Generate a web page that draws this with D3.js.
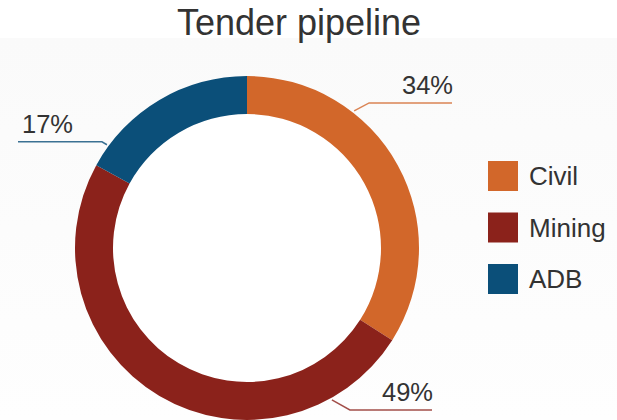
<!DOCTYPE html>
<html>
<head>
<meta charset="utf-8">
<script src="https://cdn.jsdelivr.net/npm/d3@7/dist/d3.min.js"></script>
<style>
  html, body { margin: 0; padding: 0; background: #fff; }
  svg { display: block; font-family: "Liberation Sans", Arial, sans-serif; }
</style>
</head>
<body>
<svg id="chart" width="617" height="420"></svg>
<script>
// Pipeline share by tender type
const categories = ["Civil", "Mining", "ADB"];
const shares = [34, 49, 17];
const colors = ["#D2672A", "#8B221B", "#0B4F79"];
const titleText = "Tender pipeline";

// Leader-line layout for each slice label (angle on the ring, elbow offset, end x, side)
const labelLayout = [
  { deg: 38,    elbow: [15, -8],  endX: 452, side: "right", dy: -9 },
  { deg: 150.8, elbow: [18, 10],  endX: 432, side: "right", dy: -9 },
  { deg: 306.4, elbow: [-5, -3],  endX: 18,  side: "left",  dy: -9 }
];

const W = 617, H = 420;
const cx = 247, cy = 248, outerR = 172, innerR = 134;

const svg = d3.select("#chart");

// very faint background wash below the title
const defs = svg.append("defs");
const grad = defs.append("linearGradient").attr("id", "bg").attr("x1", 0).attr("x2", 0).attr("y1", 0).attr("y2", 1);
grad.append("stop").attr("offset", "0%").attr("stop-color", "#fafafa");
grad.append("stop").attr("offset", "100%").attr("stop-color", "#fefefe");
svg.append("rect").attr("x", 0).attr("y", 38).attr("width", W).attr("height", H - 38).attr("fill", "url(#bg)");

svg.append("text")
  .attr("x", 299).attr("y", 35)
  .attr("text-anchor", "middle")
  .attr("font-size", 36)
  .attr("fill", "#333")
  .text(titleText);

const data = categories.map((c, i) => ({ name: c, value: shares[i], color: colors[i] }));

const pie = d3.pie().value(d => d.value).sort(null);
const arc = d3.arc().innerRadius(innerR).outerRadius(outerR);
const arcs = pie(data);

const g = svg.append("g").attr("transform", `translate(${cx},${cy})`);
// white hole
g.append("circle").attr("r", innerR).attr("fill", "#fff");
g.selectAll("path.slice")
  .data(arcs)
  .join("path")
  .attr("class", "slice")
  .attr("d", arc)
  .attr("fill", d => d.data.color);

// slice labels with leader lines
const total = d3.sum(shares);
arcs.forEach((a, i) => {
  const L = labelLayout[i];
  const rad = L.deg * Math.PI / 180;
  const r0 = outerR + 2;
  const x0 = cx + r0 * Math.sin(rad), y0 = cy - r0 * Math.cos(rad);
  const x1 = x0 + L.elbow[0], y1 = y0 + L.elbow[1];
  svg.append("polyline")
    .attr("points", [[x0, y0], [x1, y1], [L.endX, y1]].map(p => p.join(",")).join(" "))
    .attr("fill", "none")
    .attr("stroke", a.data.color)
    .attr("stroke-opacity", 0.8)
    .attr("stroke-width", 1.5);
  svg.append("text")
    .attr("x", L.side === "right" ? L.endX + 1 : L.endX + 4)
    .attr("y", y1 + L.dy)
    .attr("text-anchor", L.side === "right" ? "end" : "start")
    .attr("font-size", 25.5)
    .attr("fill", "#333")
    .text(Math.round(a.data.value / total * 100) + "%");
});

// legend
const legend = svg.append("g").attr("transform", "translate(488,161)");
const item = legend.selectAll("g").data(data).join("g")
  .attr("transform", (d, i) => `translate(0,${i * 51.5})`);
item.append("rect").attr("width", 30).attr("height", 30).attr("fill", d => d.color);
item.append("text")
  .attr("x", 41).attr("y", 24)
  .attr("font-size", 26)
  .attr("fill", "#333")
  .text(d => d.name);
</script>
</body>
</html>
